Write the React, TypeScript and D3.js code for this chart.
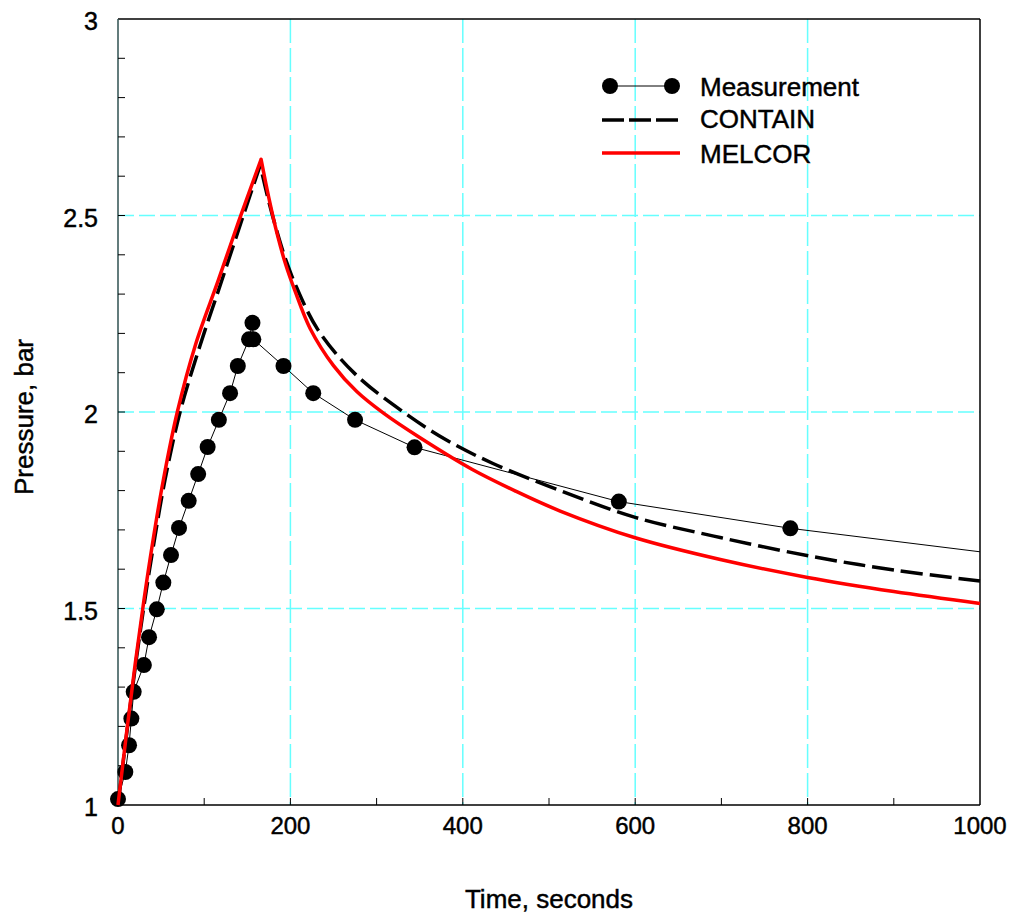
import React from "react";
import * as d3 from "d3";

type Pt = [number, number];

const measurement: Pt[] = [
  [0, 1.015], [8.5, 1.084], [12.8, 1.152], [15.5, 1.22], [18.2, 1.288], [30, 1.356],
  [36, 1.427], [45, 1.498], [52.6, 1.566], [61.5, 1.636], [70.8, 1.705], [82, 1.774],
  [93, 1.842], [104, 1.911], [117, 1.98], [130, 2.048], [139, 2.117], [152, 2.185],
  [156, 2.227], [157, 2.185], [192, 2.117], [226.5, 2.048], [275, 1.98], [344, 1.91],
  [581, 1.772], [780, 1.704], [1200, 1.59],
];

const containRise: Pt[] = [
  [0, 1], [10, 1.18], [20, 1.35], [30, 1.505], [40, 1.645], [54.5, 1.827], [72, 2.0],
  [95, 2.168], [120, 2.332], [144.6, 2.495], [165, 2.628],
];
const containDecay: Pt[] = [
  [165, 2.628], [175, 2.535], [185, 2.455], [195, 2.385], [207, 2.318], [232, 2.209],
  [275, 2.097], [331, 2.0], [380, 1.93], [435, 1.869], [513, 1.8], [600, 1.732],
  [700, 1.68], [806, 1.632], [900, 1.598], [1000, 1.57],
];

const melcorRise: Pt[] = [
  [0, 1], [10, 1.185], [20, 1.36], [30, 1.52], [40, 1.665], [52.6, 1.827], [68.8, 2.0],
  [90, 2.172], [116.5, 2.336], [140, 2.485], [166, 2.643],
];
const melcorDecay: Pt[] = [
  [166, 2.643], [175, 2.545], [185, 2.45], [195, 2.372], [205, 2.31], [223, 2.212],
  [250, 2.118], [277, 2.052], [308, 1.997], [350, 1.935], [410, 1.855], [460, 1.8],
  [513, 1.748], [600, 1.68], [700, 1.624], [800, 1.579], [900, 1.543], [1000, 1.513],
];

const xMajorTicks = [0, 200, 400, 600, 800, 1000];
const xMinorTicks = d3.range(100, 1000, 100);
const yMajorTicks = [1, 1.5, 2, 2.5, 3];
const yMinorTicks = d3.range(1.1, 3.0, 0.1);
const yTickLabels = ["1", "1.5", "2", "2.5", "3"];
const xGrid = [200, 400, 600, 800];
const yGrid = [1.5, 2, 2.5];

const FONT = "'Liberation Sans', Arial, Helvetica, sans-serif";
const L = 118, R = 980, T = 19, B = 805;

export default function App() {
  const x = d3.scaleLinear().domain([0, 1000]).range([L, R]);
  const y = d3.scaleLinear().domain([1, 3]).range([B, T]);
  const smooth = d3.line<Pt>().x(d => x(d[0])).y(d => y(d[1])).curve(d3.curveCatmullRom.alpha(0.5));
  const straight = d3.line<Pt>().x(d => x(d[0])).y(d => y(d[1]));
  const both = (a: Pt[], b: Pt[]) => (smooth(a) || "") + (smooth(b) || "").replace(/^M/, "L");
  const textStyle = { stroke: "#000", strokeWidth: 0.45 } as const;

  return (
    <svg width={1016} height={923} style={{ position: "absolute", left: 0, top: 0, background: "#fff" }} fontFamily={FONT}>
      <defs>
        <clipPath id="plot"><rect x={L} y={T - 10} width={R - L} height={B - T + 20} /></clipPath>
      </defs>
      <rect x={0} y={0} width={1016} height={923} fill="#fff" />
      {xGrid.map(v => (
        <line key={"gx" + v} x1={x(v)} x2={x(v)} y1={T} y2={B} stroke="#66ffff" strokeWidth={1.5} strokeDasharray="24 5" />
      ))}
      {yGrid.map(v => (
        <line key={"gy" + v} x1={L} x2={R} y1={y(v)} y2={y(v)} stroke="#66ffff" strokeWidth={1.5} strokeDasharray="16 5" />
      ))}
      <line x1={L} x2={R} y1={T} y2={T} stroke="#000" strokeWidth={1.5} />
      <line x1={R} x2={R} y1={T} y2={B} stroke="#000" strokeWidth={1.5} />
      <line x1={L} x2={R} y1={B} y2={B} stroke="#000" strokeWidth={1.5} />
      <line x1={L} x2={L} y1={T} y2={B} stroke="#2f5050" strokeWidth={1.5} />
      {xMinorTicks.map(v => (
        <line key={"xt" + v} x1={x(v)} x2={x(v)} y1={B} y2={B - 7} stroke="#000" strokeWidth={1} />
      ))}
      {yMinorTicks.map((v, i) => (
        <line key={"yt" + i} x1={L} x2={L + 7} y1={y(v)} y2={y(v)} stroke="#000" strokeWidth={1} />
      ))}
      {xMajorTicks.map(v => (
        <text key={"xl" + v} x={x(v)} y={834} textAnchor="middle" fontSize={24} style={textStyle}>{v}</text>
      ))}
      {yMajorTicks.map((v, i) => (
        <text key={"yl" + v} x={98} y={y(v) + 11} textAnchor="end" fontSize={25} style={textStyle}>{yTickLabels[i]}</text>
      ))}
      <text x={(L + R) / 2} y={908} textAnchor="middle" fontSize={26} style={textStyle}>Time, seconds</text>
      <text transform={`translate(33, 417) rotate(-90)`} textAnchor="middle" fontSize={26} style={textStyle}>Pressure, bar</text>

      <g clipPath="url(#plot)">
        <path d={straight(measurement) || ""} fill="none" stroke="#000" strokeWidth={1} />
      </g>
      {measurement.filter(d => d[0] <= 1000).map((d, i) => (
        <circle key={"m" + i} cx={x(d[0])} cy={y(d[1])} r={8} fill="#000" />
      ))}
      <path d={both(containRise, containDecay)} fill="none" stroke="#000" strokeWidth={3.5} strokeDasharray="22 7" />
      <path d={both(melcorRise, melcorDecay)} fill="none" stroke="#ff0000" strokeWidth={3.5} />

      <line x1={610} x2={672} y1={86} y2={86} stroke="#000" strokeWidth={1} />
      <circle cx={610} cy={86} r={8} fill="#000" />
      <circle cx={672} cy={86} r={8} fill="#000" />
      <line x1={602} x2={680} y1={120} y2={120} stroke="#000" strokeWidth={3.5} strokeDasharray="22 5" />
      <line x1={602} x2={680} y1={153} y2={153} stroke="#ff0000" strokeWidth={3.5} />
      <text x={700} y={96} fontSize={26} style={textStyle}>Measurement</text>
      <text x={700} y={128} fontSize={26} style={textStyle}>CONTAIN</text>
      <text x={700} y={163} fontSize={26} style={textStyle}>MELCOR</text>
    </svg>
  );
}
